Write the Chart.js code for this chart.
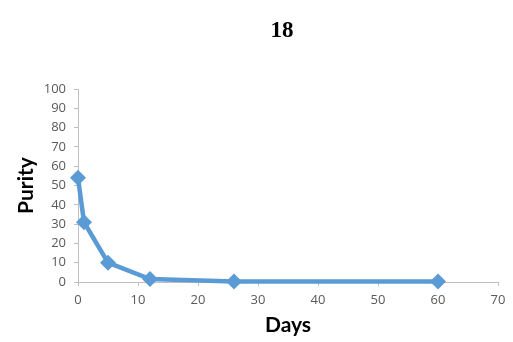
<!DOCTYPE html>
<html>
<head>
<meta charset="utf-8">
<script src="https://cdn.jsdelivr.net/npm/chart.js@4/dist/chart.umd.min.js"></script>
<style>
  html, body { margin: 0; padding: 0; background: #fff; }
  #wrap { width: 513px; height: 342px; }
</style>
</head>
<body>
<div id="wrap"><canvas id="chart" width="513" height="342"></canvas></div>
<script>
// data
const days = [0, 1, 5, 12, 26, 60];
const purity = [54, 31, 10, 1.5, 0.3, 0.3];
const chartTitle = '18';
const xTitle = 'Days';
const yTitle = 'Purity';

const axisGrey = '#bfbfbf';
const tickGrey = '#595959';
const lineBlue = '#5b9bd5';

const points = days.map((d, i) => ({ x: d, y: purity[i] }));

// the title sits a little left of the plot centre, so draw it by hand
const topTitle = {
    id: 'topTitle',
    afterDraw(chart) {
        const ctx = chart.ctx;
        ctx.save();
        ctx.font = 'bold 23px "Liberation Serif"';
        ctx.fillStyle = '#000';
        ctx.textAlign = 'center';
        ctx.textBaseline = 'middle';
        ctx.fillText(chartTitle, 282, 31);
        ctx.restore();
    }
};

new Chart(document.getElementById('chart'), {
    type: 'scatter',
    data: {
        datasets: [{
            data: points,
            showLine: true,
            borderColor: lineBlue,
            backgroundColor: lineBlue,
            borderWidth: 4.5,
            pointStyle: 'rectRot',
            pointRadius: 8,
            pointBorderWidth: 0,
            clip: false
        }]
    },
    plugins: [topTitle],
    options: {
        responsive: false,
        animation: false,
        layout: { padding: { left: 10, right: 15, top: 89, bottom: 0 } },
        plugins: {
            legend: { display: false },
            tooltip: { enabled: false },
            title: { display: false }
        },
        scales: {
            x: {
                type: 'linear',
                min: 0,
                max: 70,
                ticks: { stepSize: 10, color: tickGrey, font: { family: 'Open Sans', size: 13 }, padding: 6 },
                grid: { drawOnChartArea: false, drawTicks: true, tickLength: 4, color: axisGrey },
                border: { color: axisGrey },
                title: { display: true, text: xTitle, color: '#000', font: { family: 'Lato', size: 21, weight: 'bold' }, padding: { top: 12 } },
                afterFit: s => { s.height = 60; }
            },
            y: {
                min: 0,
                max: 100,
                ticks: { stepSize: 10, color: tickGrey, font: { family: 'Open Sans', size: 13 }, padding: 8 },
                grid: { drawOnChartArea: false, drawTicks: true, tickLength: 4, color: axisGrey },
                border: { color: axisGrey },
                title: { display: true, text: yTitle, color: '#000', font: { family: 'Lato', size: 21, weight: 'bold' }, padding: { bottom: 8 } },
                afterFit: s => { s.width = 68; }
            }
        }
    }
});
</script>
</body>
</html>
